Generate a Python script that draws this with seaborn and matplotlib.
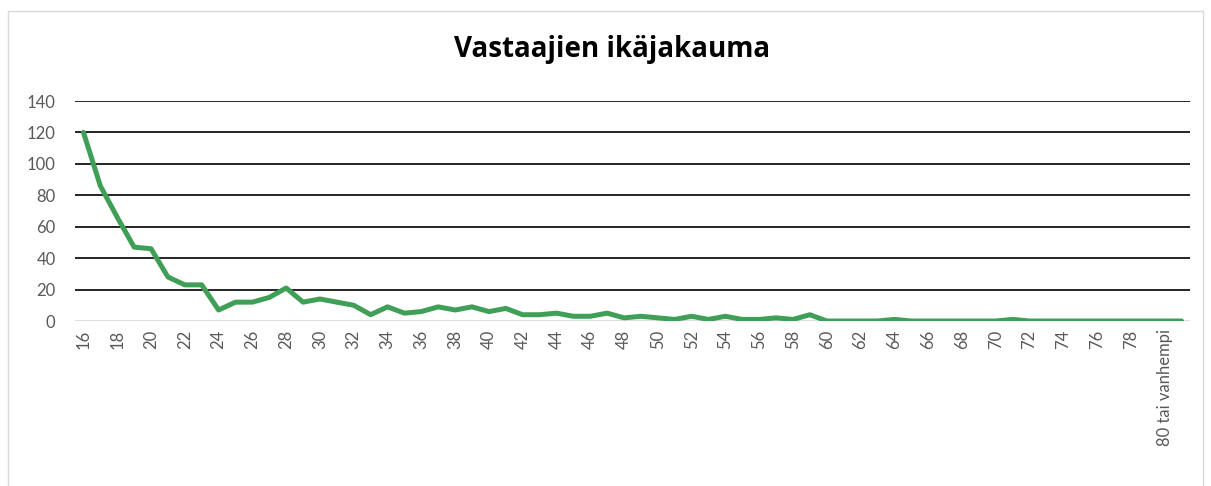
import pandas as pd
import matplotlib.pyplot as plt
import matplotlib.patches as patches
import seaborn as sns

# Age categories (the last one is an unlabeled empty category)
ages = [str(a) for a in range(16, 80)] + ['80 tai vanhempi', '']
counts = [120, 86, 66, 47, 46, 28, 23, 23, 7, 12,
          12, 15, 21, 12, 14, 12, 10, 4, 9, 5,
          6, 9, 7, 9, 6, 8, 4, 4, 5, 3,
          3, 5, 2, 3, 2, 1, 3, 1, 3, 1,
          1, 2, 1, 4, 0, 0, 0, 0, 1, 0,
          0, 0, 0, 0, 0, 1, 0, 0, 0, 0,
          0, 0, 0, 0, 0, 0]
y_ticks = [0, 20, 40, 60, 80, 100, 120, 140]

data = pd.DataFrame({'Ikä': ages, 'Vastaajia': counts})

sns.set_style('white')
plt.rcParams['font.family'] = ['Lato', 'DejaVu Sans']

fig = plt.figure(figsize=(12.11, 4.86), dpi=100)
ax = fig.add_axes([75 / 1211, 1 - 321 / 486, (1190 - 75) / 1211, 220 / 486])

# Outer chart border
fig.patches.append(patches.Rectangle((8 / 1211, -0.05), 1195 / 1211, 1 - 11 / 486 + 0.05,
                                     transform=fig.transFigure, fill=False,
                                     edgecolor='#d9d9d9', linewidth=1.0))

sns.lineplot(data=data, x='Ikä', y='Vastaajia', sort=False, ax=ax,
             color='#3f9f57', linewidth=3.6)

ax.set_ylim(0, 140)
ax.set_xlim(-0.5, len(ages) - 0.5)
ax.set_yticks(y_ticks)
ax.set_yticklabels([str(v) for v in y_ticks])
for v in y_ticks[1:]:
    ax.axhline(v, color='black', linewidth=1.2, zorder=0)
ax.axhline(0, color='#d9d9d9', linewidth=1.2, zorder=0)

ax.set_xticks(range(0, len(ages), 2))
ax.set_xticklabels(ages[::2], rotation=90)
ax.tick_params(axis='x', length=0, pad=6, labelsize=12, labelcolor='#595959')
ax.tick_params(axis='y', length=0, pad=14, labelsize=12, labelcolor='#595959')
ax.set_xlabel('')
ax.set_ylabel('')
for s in ax.spines.values():
    s.set_visible(False)

fig.text(612 / 1211, 1 - 50 / 486, 'Vastaajien ikäjakauma', ha='center', va='center',
         fontsize=20, fontweight='bold', color='black', family='Open Sans')

fig.savefig('out.png', dpi=100)
